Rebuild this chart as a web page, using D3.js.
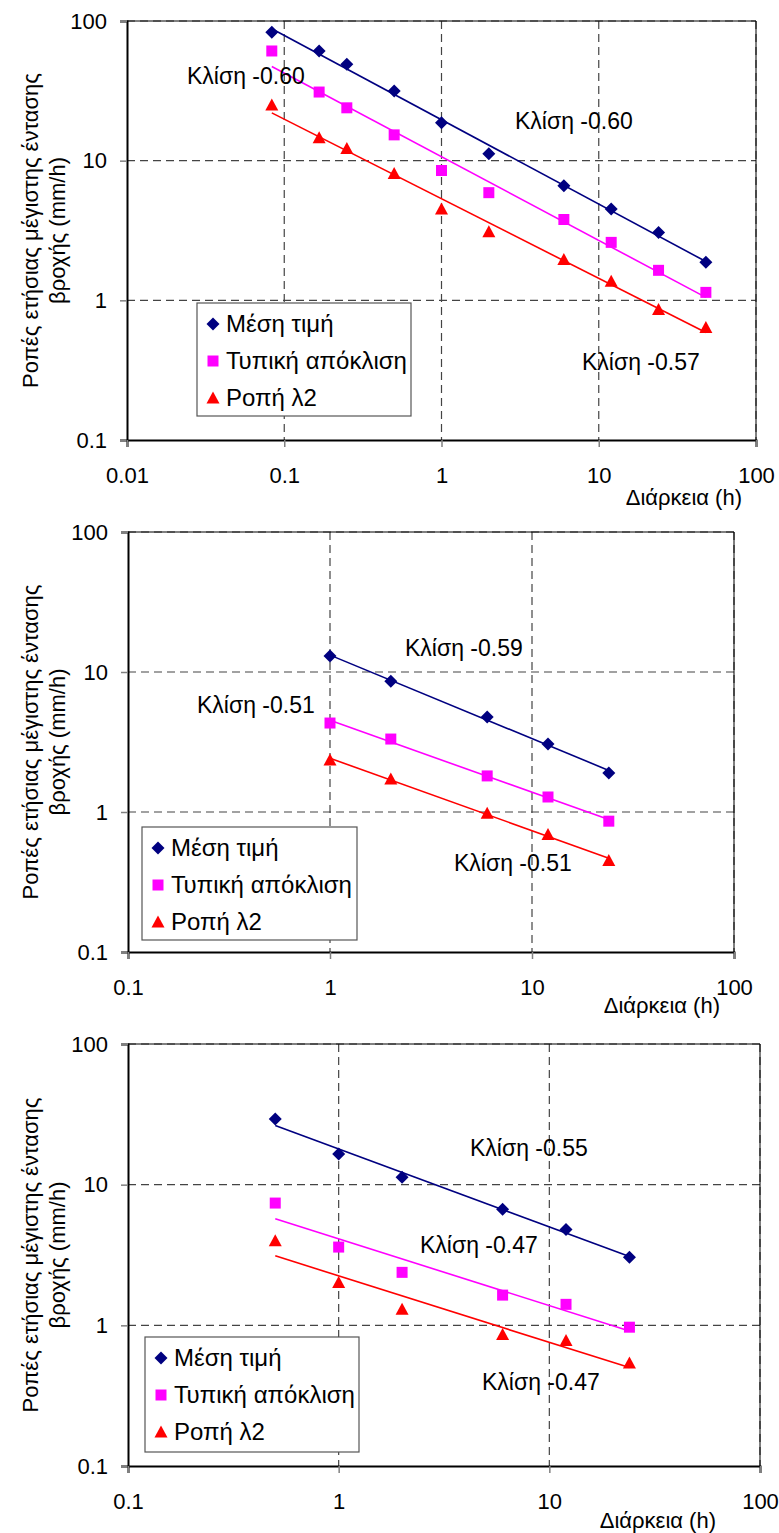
<!DOCTYPE html>
<html>
<head>
<meta charset="utf-8">
<script src="https://cdn.jsdelivr.net/npm/d3@7"></script>
<style>
  html, body { margin: 0; padding: 0; background: #fff; }
  svg { display: block; font-family: "Liberation Sans", Arial, sans-serif; }
</style>
</head>
<body>
<svg id="chart" width="779" height="1533"></svg>
<script>
// ---------------- DATA ----------------
const seriesNames = ["Μέση τιμή", "Τυπική απόκλιση", "Ροπή λ2"];
const yTicks = [0.1, 1, 10, 100];
const xTicks1 = [0.01, 0.1, 1, 10, 100];
const xTicks23 = [0.1, 1, 10, 100];
const xTitle = "Διάρκεια (h)";
const yTitle1 = "Ροπές ετήσιας μέγιστης έντασης";
const yTitle2 = "βροχής (mm/h)";

// Panel 1
const durations1 = [1/12, 1/6, 0.25, 0.5, 1, 2, 6, 12, 24, 48];
const mean1 = [83, 61, 49, 31.6, 18.7, 11.2, 6.6, 4.5, 3.06, 1.87];
const std1  = [61, 31, 23.9, 15.3, 8.5, 5.9, 3.79, 2.6, 1.64, 1.14];
const l2_1  = [25, 14.6, 12.2, 8.1, 4.5, 3.1, 1.96, 1.37, 0.86, 0.64];
const slopeLabels1 = ["Κλίση -0.60", "Κλίση -0.60", "Κλίση -0.57"]; // mean, std, λ2

// Panel 2
const durations2 = [1, 2, 6, 12, 24];
const mean2 = [13.0, 8.6, 4.77, 3.06, 1.90];
const std2  = [4.32, 3.32, 1.81, 1.28, 0.86];
const l2_2  = [2.35, 1.72, 0.98, 0.69, 0.45];
const slopeLabels2 = ["Κλίση -0.59", "Κλίση -0.51", "Κλίση -0.51"];

// Panel 3
const durations3 = [0.5, 1, 2, 6, 12, 24];
const mean3 = [29.3, 16.5, 11.3, 6.7, 4.8, 3.05];
const std3  = [7.4, 3.6, 2.38, 1.64, 1.41, 0.97];
const l2_3  = [4.0, 2.02, 1.30, 0.86, 0.78, 0.54];
const slopeLabels3 = ["Κλίση -0.55", "Κλίση -0.47", "Κλίση -0.47"];

// ---------------- STYLE / LAYOUT ----------------
const colors = ["#000080", "#FF00FF", "#FF0000"];
const FONT = 22;
const LABEL_FONT = 23;
const LEGEND_FONT = 24;

const panels = [
  { left: 127, right: 756, top: 21, bottom: 440, xDomain: [0.01, 100], xTicks: xTicks1,
    x: durations1, ys: [mean1, std1, l2_1], labels: slopeLabels1,
    labelPos: [[515, 121], [187, 76], [582, 362]],
    legend: [197, 303, 214, 113], xTitlePos: [742, 497] },
  { left: 128, right: 734, top: 532, bottom: 952, xDomain: [0.1, 100], xTicks: xTicks23,
    x: durations2, ys: [mean2, std2, l2_2], labels: slopeLabels2,
    labelPos: [[405, 648], [197, 705], [454, 863]],
    legend: [142, 827, 215, 113], xTitlePos: [720, 1005] },
  { left: 128, right: 760, top: 1044, bottom: 1466, xDomain: [0.1, 100], xTicks: xTicks23,
    x: durations3, ys: [mean3, std3, l2_3], labels: slopeLabels3,
    labelPos: [[470, 1148], [420, 1245], [482, 1382]],
    legend: [145, 1337, 214, 115], xTitlePos: [716, 1520] }
];

function markerPath(i) {
  if (i === 0) { const r = 6.5; return `M0,${-r}L${r},0L0,${r}L${-r},0Z`; }
  if (i === 1) { const h = 5.5; return `M${-h},${-h}H${h}V${h}H${-h}Z`; }
  const w = 6.5, t = 6.5, b = 5.5; return `M0,${-t}L${w},${b}L${-w},${b}Z`;
}

function fit(xs, ys) {
  const lx = xs.map(Math.log10), ly = ys.map(Math.log10);
  const mx = d3.mean(lx), my = d3.mean(ly);
  let sxy = 0, sxx = 0;
  lx.forEach((v, i) => { sxy += (v - mx) * (ly[i] - my); sxx += (v - mx) * (v - mx); });
  const b = sxy / sxx, a = my - b * mx;
  return x => Math.pow(10, a + b * Math.log10(x));
}

const svg = d3.select("#chart");
const fmt = d => (d >= 1 ? d3.format("d")(d) : String(d));

panels.forEach(p => {
  const x = d3.scaleLog().domain(p.xDomain).range([p.left, p.right]);
  const y = d3.scaleLog().domain([0.1, 100]).range([p.bottom, p.top]);
  const g = svg.append("g");

  // gridlines
  g.selectAll(".vg").data(p.xTicks.slice(1)).join("line")
    .attr("x1", d => x(d)).attr("x2", d => x(d)).attr("y1", p.top).attr("y2", p.bottom)
    .attr("stroke", "#444").attr("stroke-width", 1.2).attr("stroke-dasharray", "8,5");
  g.selectAll(".hg").data(yTicks.slice(1)).join("line")
    .attr("y1", d => y(d)).attr("y2", d => y(d)).attr("x1", p.left).attr("x2", p.right)
    .attr("stroke", "#444").attr("stroke-width", 1.2).attr("stroke-dasharray", "8,5");

  // border top/right thin
  g.append("path").attr("d", `M${p.left},${p.top}H${p.right}V${p.bottom}`)
    .attr("fill", "none").attr("stroke", "#000").attr("stroke-width", 1);

  // axes
  const ya = g.append("g").attr("transform", `translate(${p.left},0)`)
    .call(d3.axisLeft(y).tickValues(yTicks).tickFormat(fmt).tickSize(7).tickPadding(13));
  const xa = g.append("g").attr("transform", `translate(0,${p.bottom})`)
    .call(d3.axisBottom(x).tickValues(p.xTicks).tickFormat(fmt).tickSize(7).tickPadding(20));
  [ya, xa].forEach(a => {
    a.select(".domain").attr("stroke", "#000").attr("stroke-width", 2);
    a.selectAll(".tick line").attr("stroke", "#808080").attr("stroke-width", 1.5);
    a.selectAll(".tick text").attr("font-size", FONT).attr("fill", "#000")
      .attr("font-family", "Liberation Sans, Arial, sans-serif");
  });

  // axis titles
  g.append("text").attr("x", p.xTitlePos[0]).attr("y", p.xTitlePos[1]).attr("dy", "0.35em")
    .attr("text-anchor", "end").attr("font-size", FONT).text(xTitle);
  const cy = (p.top + p.bottom) / 2;
  g.append("text").attr("transform", `translate(30,${cy}) rotate(-90)`).attr("dy", "0.35em")
    .attr("text-anchor", "middle").attr("font-size", FONT).text(yTitle1);
  g.append("text").attr("transform", `translate(57,${cy}) rotate(-90)`).attr("dy", "0.35em")
    .attr("text-anchor", "middle").attr("font-size", FONT).text(yTitle2);

  // series
  p.ys.forEach((vals, si) => {
    const f = fit(p.x, vals);
    const x0 = d3.min(p.x), x1 = d3.max(p.x);
    g.append("path").datum([x0, x1])
      .attr("d", d3.line().x(d => x(d)).y(d => y(f(d))))
      .attr("fill", "none").attr("stroke", colors[si]).attr("stroke-width", 1.6);
    g.selectAll(null).data(vals).join("path")
      .attr("transform", (d, i) => `translate(${x(p.x[i])},${y(d)})`)
      .attr("d", markerPath(si)).attr("fill", colors[si]);
  });

  // slope labels
  p.labels.forEach((t, i) => {
    g.append("text").attr("x", p.labelPos[i][0]).attr("y", p.labelPos[i][1]).attr("dy", "0.35em")
      .attr("font-size", LABEL_FONT).text(t);
  });

  // legend
  const [lx, ly, lw, lh] = p.legend;
  const lg = g.append("g");
  lg.append("rect").attr("x", lx).attr("y", ly).attr("width", lw).attr("height", lh)
    .attr("fill", "#fff").attr("stroke", "#555").attr("stroke-width", 1.2);
  seriesNames.forEach((n, i) => {
    const yy = ly + 21 + i * 37;
    lg.append("path").attr("transform", `translate(${lx + 16},${yy})`).attr("d", markerPath(i))
      .attr("fill", colors[i]);
    lg.append("text").attr("x", lx + 29).attr("y", yy).attr("dy", "0.35em")
      .attr("font-size", LEGEND_FONT).text(n);
  });
});
</script>
</body>
</html>
